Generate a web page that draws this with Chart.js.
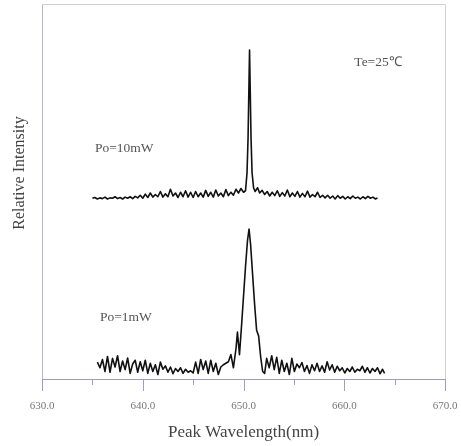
<!DOCTYPE html>
<html>
<head>
<meta charset="utf-8">
<script src="https://cdn.jsdelivr.net/npm/chart.js@4/dist/chart.umd.min.js"></script>
<style>
  body { margin: 0; background: #fff; }
</style>
</head>
<body>
<canvas id="spectrum" width="461" height="446"></canvas>
<script>
// Po=10mW spectrum (upper trace)
const wl10 = [635.0, 635.25, 635.5, 635.75, 636.0, 636.25, 636.5, 636.75, 637.0, 637.25,
  637.5, 637.75, 638.0, 638.25, 638.5, 638.75, 639.0, 639.25, 639.5, 639.75,
  640.0, 640.25, 640.5, 640.75, 641.0, 641.25, 641.5, 641.75, 642.0, 642.25,
  642.5, 642.75, 643.0, 643.25, 643.5, 643.75, 644.0, 644.25, 644.5, 644.75,
  645.0, 645.25, 645.5, 645.75, 646.0, 646.25, 646.5, 646.75, 647.0, 647.25,
  647.5, 647.75, 648.0, 648.25, 648.5, 648.75, 649.0, 649.25, 649.5, 649.75,
  650.0, 650.2, 650.35, 650.45, 650.6, 650.75, 650.85, 651.0, 651.15,
  651.4, 651.6, 651.85, 652.1, 652.35, 652.6, 652.85, 653.1, 653.35,
  653.6, 653.85, 654.1, 654.35, 654.6, 654.85, 655.1, 655.35, 655.6, 655.85,
  656.1, 656.35, 656.6, 656.85, 657.1, 657.35, 657.6, 657.85, 658.1, 658.35,
  658.6, 658.85, 659.1, 659.35, 659.6, 659.85, 660.1, 660.35, 660.6, 660.85,
  661.1, 661.35, 661.6, 661.85, 662.1, 662.35, 662.6, 662.85, 663.1, 663.3];
const int10 = [48.2, 48.4, 48.0, 48.3, 48.1, 48.5, 48.0, 48.3, 48.2, 48.6,
  48.1, 48.4, 48.0, 48.5, 48.2, 48.6, 48.1, 48.7, 48.3, 49.0,
  48.2, 49.3, 48.4, 49.6, 48.5, 49.2, 48.6, 50.0, 48.5, 49.4,
  48.6, 50.6, 48.8, 49.6, 48.4, 49.8, 48.6, 50.2, 48.5, 49.8,
  48.4, 50.0, 48.6, 49.6, 48.5, 50.3, 48.7, 49.8, 48.5, 50.4,
  48.8, 49.6, 48.6, 50.5, 48.9, 49.8, 49.0, 50.6, 49.6, 50.8,
  49.8, 50.2, 55.0, 64.0, 87.7, 64.0, 55.0, 51.0, 50.0,
  51.0, 49.6, 50.3, 49.2, 50.0, 48.8, 49.8, 48.9, 50.2,
  48.7, 49.7, 48.8, 50.4, 48.6, 49.6, 48.7, 50.0, 48.5, 49.5,
  48.6, 50.1, 48.5, 49.2, 48.6, 49.8, 48.4, 49.0, 48.3, 49.0,
  48.2, 48.8, 48.0, 48.9, 48.2, 48.7, 48.0, 48.6, 48.1, 48.8,
  48.2, 48.5, 48.0, 48.6, 48.1, 48.7, 48.2, 48.5, 48.0, 48.3];

// Po=1mW spectrum (lower trace)
const wl1 = [635.5, 635.75, 636.0, 636.25, 636.5, 636.75, 637.0, 637.25, 637.5, 637.75,
  638.0, 638.25, 638.5, 638.75, 639.0, 639.25, 639.5, 639.75, 640.0,
  640.25, 640.5, 640.75, 641.0, 641.25, 641.5, 641.75, 642.0, 642.25, 642.5,
  642.75, 643.0, 643.25, 643.5, 643.75, 644.0, 644.25, 644.5, 644.75, 645.0,
  645.25, 645.5, 645.75, 646.0, 646.25, 646.5, 646.75, 647.0, 647.25, 647.5,
  647.75, 648.0, 648.25, 648.5,
  648.75, 649.0, 649.25, 649.4, 649.6, 649.8, 650.0, 650.2, 650.4, 650.55,
  650.7, 650.9, 651.1, 651.3, 651.5, 651.7, 651.9, 652.1,
  652.3, 652.55, 652.8, 653.05, 653.3, 653.55, 653.8, 654.05, 654.3, 654.55,
  654.8, 655.05, 655.3, 655.55, 655.8, 656.05, 656.3, 656.55, 656.8, 657.05,
  657.3, 657.55, 657.8, 658.05, 658.3, 658.55, 658.8, 659.05, 659.3, 659.55,
  659.8, 660.05, 660.3, 660.55, 660.8, 661.05, 661.3, 661.55, 661.8, 662.05,
  662.3, 662.55, 662.8, 663.05, 663.3, 663.55, 663.8, 664.0];
const int1 = [4.5, 3.0, 5.2, 2.0, 6.0, 1.8, 5.5, 3.2, 6.2, 2.0,
  4.8, 2.5, 5.6, 1.5, 4.0, 5.0, 1.8, 4.6, 2.2,
  5.0, 1.5, 4.2, 2.0, 3.8, 1.2, 4.5, 2.6, 3.5, 1.8,
  3.2, 1.4, 2.8, 2.0, 3.0, 1.5, 2.6, 1.8, 2.2, 1.6,
  4.5, 1.5, 5.2, 2.5, 4.8, 1.5, 5.0, 2.0, 4.2, 1.2,
  3.2, 3.8, 4.2, 4.6,
  6.5, 3.0, 8.0, 12.5, 6.5, 14.0, 22.0, 30.0, 37.0, 40.0,
  36.0, 28.0, 20.0, 13.0, 11.5, 6.0, 2.0, 1.5,
  5.5, 3.0, 6.2, 2.5, 5.8, 1.5, 5.0, 2.0, 4.2, 1.2,
  5.5, 2.0, 4.0, 3.0, 4.4, 2.0, 3.6, 1.5, 3.8, 2.2,
  4.2, 2.0, 3.5, 1.8, 4.6, 2.4, 3.8, 1.8, 3.4, 2.2,
  3.0, 1.6, 2.8, 2.0, 3.2, 1.8, 2.6, 2.2, 3.4, 1.8,
  3.0, 1.6, 2.8, 2.0, 3.0, 1.4, 2.6, 1.5];

const xTicks = [630, 640, 650, 660, 670];
const minorTicks = [635, 645, 655, 665];

// text labels placed in data coordinates
const notes = [
  { text: 'Te=25\u2103', x: 661.0, y: 84.3 },
  { text: 'Po=10mW', x: 635.25, y: 61.6 },
  { text: 'Po=1mW', x: 635.75, y: 16.5 }
];

const toPoints = (xs, ys) => xs.map((x, i) => ({ x: x, y: ys[i] }));

const decorations = {
  id: 'decorations',
  afterDraw(chart) {
    const ctx = chart.ctx;
    const area = chart.chartArea;
    const xs = chart.scales.x;
    const ys = chart.scales.y;
    ctx.save();
    // frame top and right
    ctx.strokeStyle = '#d2d2d2';
    ctx.lineWidth = 1;
    ctx.beginPath();
    ctx.moveTo(area.left, area.top + 0.5);
    ctx.lineTo(area.right + 0.5, area.top + 0.5);
    ctx.lineTo(area.right + 0.5, area.bottom);
    ctx.stroke();
    // tick marks below the axis
    ctx.strokeStyle = '#a09cc4';
    xTicks.forEach(v => {
      const px = Math.round(xs.getPixelForValue(v)) + 0.5;
      ctx.beginPath();
      ctx.moveTo(px, area.bottom);
      ctx.lineTo(px, area.bottom + 12);
      ctx.stroke();
    });
    minorTicks.forEach(v => {
      const px = Math.round(xs.getPixelForValue(v)) + 0.5;
      ctx.beginPath();
      ctx.moveTo(px, area.bottom);
      ctx.lineTo(px, area.bottom + 6);
      ctx.stroke();
    });
    // annotations
    ctx.fillStyle = '#555';
    ctx.font = '13.5px "Liberation Serif", serif';
    ctx.textBaseline = 'middle';
    notes.forEach(n => {
      ctx.fillText(n.text, xs.getPixelForValue(n.x), ys.getPixelForValue(n.y));
    });
    // y axis title
    ctx.fillStyle = '#444';
    ctx.font = '16px "Liberation Serif", serif';
    ctx.translate(20, 173);
    ctx.rotate(-Math.PI / 2);
    ctx.textAlign = 'center';
    ctx.fillText('Relative Intensity', 0, 0);
    ctx.restore();
  }
};

window.addEventListener('DOMContentLoaded', () => {
  new Chart(document.getElementById('spectrum'), {
    type: 'line',
    data: {
      datasets: [
        {
          label: 'Po=10mW',
          data: toPoints(wl10, int10),
          borderColor: '#111',
          borderWidth: 1.6,
          borderJoinStyle: 'round',
          pointRadius: 0,
          tension: 0
        },
        {
          label: 'Po=1mW',
          data: toPoints(wl1, int1),
          borderColor: '#111',
          borderWidth: 1.6,
          borderJoinStyle: 'round',
          pointRadius: 0,
          tension: 0
        }
      ]
    },
    plugins: [decorations],
    options: {
      responsive: false,
      animation: false,
      layout: { padding: { top: 4, right: 16, left: 0, bottom: 0 } },
      plugins: {
        legend: { display: false },
        tooltip: { enabled: false }
      },
      scales: {
        x: {
          type: 'linear',
          min: 630,
          max: 670,
          grid: { display: false },
          border: { color: '#9d99c6', width: 1 },
          afterFit: s => { s.height = 67; s.paddingRight = 0; s.paddingLeft = 0; },
          afterBuildTicks: s => { s.ticks = xTicks.map(v => ({ value: v })); },
          ticks: {
            padding: 13,
            color: '#777',
            font: { family: '"Liberation Serif", serif', size: 11 },
            callback: v => v.toFixed(1)
          },
          title: {
            display: true,
            text: 'Peak Wavelength(nm)',
            color: '#444',
            font: { family: '"Liberation Serif", serif', size: 17 },
            padding: { top: 8, bottom: 3 }
          }
        },
        y: {
          min: 0,
          max: 100,
          grid: { display: false },
          border: { color: '#b6b2d0', width: 1 },
          ticks: { display: false },
          afterFit: s => { s.width = 42; }
        }
      }
    }
  });
});
</script>
</body>
</html>
